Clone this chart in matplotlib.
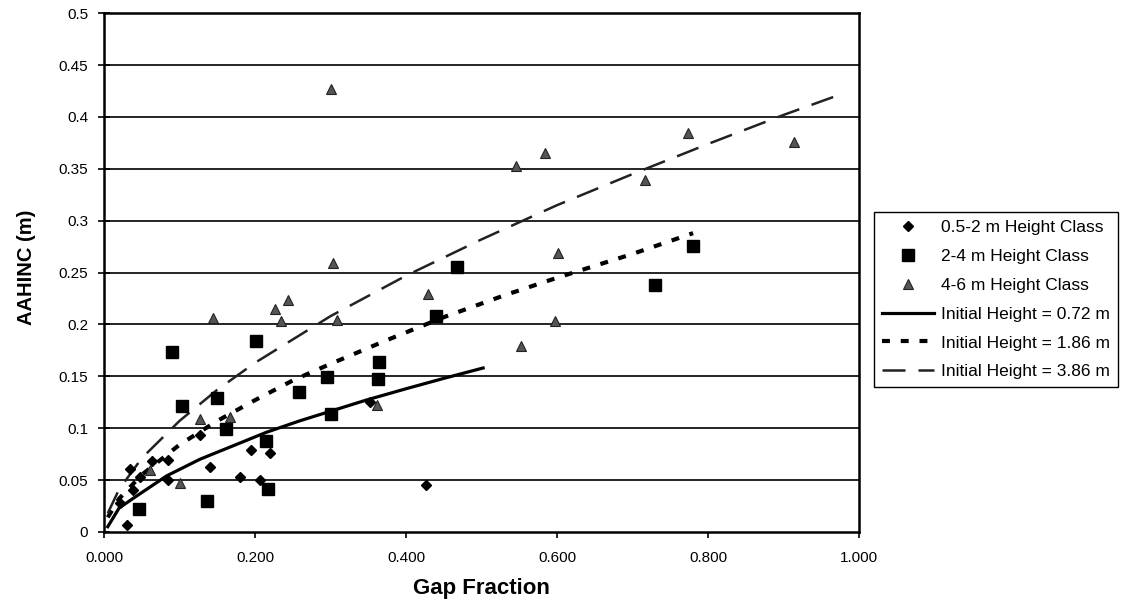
import matplotlib.pyplot as plt

plt.rcParams['font.family'] = ['Liberation Sans', 'DejaVu Sans']

# ------------------------------
# DATA
# ------------------------------

# 0.5-2 m height class
gap_05_2 = [0.034, 0.030, 0.021, 0.039, 0.048, 0.063, 0.085, 0.085, 0.127, 0.140,
            0.180, 0.195, 0.206, 0.220, 0.352, 0.427]
inc_05_2 = [0.061, 0.007, 0.028, 0.040, 0.053, 0.068, 0.069, 0.050, 0.093, 0.063,
            0.053, 0.079, 0.050, 0.076, 0.125, 0.045]

# 2-4 m height class
gap_2_4 = [0.090, 0.103, 0.047, 0.149, 0.161, 0.136, 0.201, 0.214, 0.217, 0.258,
           0.295, 0.301, 0.364, 0.363, 0.440, 0.467, 0.729, 0.780]
inc_2_4 = [0.173, 0.121, 0.022, 0.129, 0.099, 0.030, 0.184, 0.088, 0.041, 0.135,
           0.149, 0.114, 0.164, 0.147, 0.208, 0.255, 0.238, 0.276]

# 4-6 m height class
gap_4_6 = [0.300, 0.303, 0.244, 0.145, 0.226, 0.235, 0.308, 0.127, 0.167, 0.361,
           0.100, 0.061, 0.545, 0.584, 0.773, 0.914, 0.716, 0.601, 0.429, 0.597, 0.552]
inc_4_6 = [0.427, 0.259, 0.224, 0.206, 0.215, 0.203, 0.204, 0.109, 0.111, 0.122,
           0.047, 0.060, 0.353, 0.365, 0.385, 0.376, 0.339, 0.269, 0.229, 0.203, 0.179]

# model curves
curve_072_x = [0.005, 0.02, 0.04, 0.083, 0.127, 0.171, 0.215, 0.259, 0.303, 0.347, 0.40, 0.45, 0.502]
curve_072_y = [0.005, 0.023, 0.033, 0.054, 0.070, 0.083, 0.096, 0.107, 0.117, 0.127, 0.138, 0.148, 0.158]

curve_186_x = [0.005, 0.02, 0.05, 0.10, 0.15, 0.20, 0.25, 0.30, 0.375, 0.45, 0.53, 0.60, 0.70, 0.78]
curve_186_y = [0.014, 0.032, 0.055, 0.084, 0.107, 0.127, 0.146, 0.162, 0.185, 0.207, 0.228, 0.245, 0.268, 0.288]

curve_386_x = [0.005, 0.02, 0.05, 0.10, 0.15, 0.20, 0.30, 0.40, 0.50, 0.60, 0.70, 0.80, 0.90, 0.98]
curve_386_y = [0.018, 0.041, 0.071, 0.107, 0.137, 0.163, 0.208, 0.247, 0.282, 0.315, 0.345, 0.374, 0.402, 0.423]

y_ticks = [0, 0.05, 0.1, 0.15, 0.2, 0.25, 0.3, 0.35, 0.4, 0.45, 0.5]
y_labels = ['0', '0.05', '0.1', '0.15', '0.2', '0.25', '0.3', '0.35', '0.4', '0.45', '0.5']
x_ticks = [0.0, 0.2, 0.4, 0.6, 0.8, 1.0]
x_labels = ['0.000', '0.200', '0.400', '0.600', '0.800', '1.000']

# -----------------
# PLOT
# -----------------
fig = plt.figure(figsize=(11.34, 6.01), dpi=100)
ax = fig.add_axes([0.0917, 0.115, 0.666, 0.863])

for yv in y_ticks[1:-1]:
    ax.axhline(yv, color='black', linewidth=1.2, zorder=1)

ax.plot(gap_05_2, inc_05_2, linestyle='none', marker='D', markersize=5.5,
        color='black', label='0.5-2 m Height Class', zorder=4)
ax.plot(gap_2_4, inc_2_4, linestyle='none', marker='s', markersize=8.5,
        color='black', label='2-4 m Height Class', zorder=4)
ax.plot(gap_4_6, inc_4_6, linestyle='none', marker='^', markersize=6.5,
        color='#555555', markeredgecolor='#222222', markeredgewidth=0.8,
        label='4-6 m Height Class', zorder=4)

ax.plot(curve_072_x, curve_072_y, color='black', linewidth=2.3,
        label='Initial Height = 0.72 m', zorder=3)
ax.plot(curve_186_x, curve_186_y, color='black', linewidth=3.0,
        dashes=(1.9, 2.6), label='Initial Height = 1.86 m', zorder=3)
ax.plot(curve_386_x, curve_386_y, color='#222222', linewidth=1.8,
        dashes=(9.2, 5.2), label='Initial Height = 3.86 m', zorder=3)

ax.set_xlim(0, 1.0)
ax.set_ylim(0, 0.5)
ax.set_xticks(x_ticks)
ax.set_xticklabels(x_labels)
ax.set_yticks(y_ticks)
ax.set_yticklabels(y_labels)
ax.tick_params(axis='both', width=1.2, labelsize=11, colors='black')
ax.tick_params(axis='x', direction='out', length=4, pad=10)
ax.tick_params(axis='y', direction='inout', length=9, pad=7)
for s in ax.spines.values():
    s.set_linewidth(1.8)
    s.set_color('black')

ax.set_xlabel('Gap Fraction', fontsize=16, fontweight='bold')
ax.set_ylabel('AAHINC (m)', fontsize=14.5, fontweight='bold')
ax.xaxis.set_label_coords(0.5, -0.088)
ax.yaxis.set_label_coords(-0.09, 0.51)

leg = ax.legend(loc='upper left', bbox_to_anchor=(1.0195, 0.6166), fontsize=12.5,
                frameon=True, fancybox=False, edgecolor='black', framealpha=1,
                handlelength=3.0, handletextpad=0.4, borderpad=0.45,
                labelspacing=0.79, borderaxespad=0.0)
leg.get_frame().set_linewidth(1.0)

fig.savefig('out.png', dpi=100)
